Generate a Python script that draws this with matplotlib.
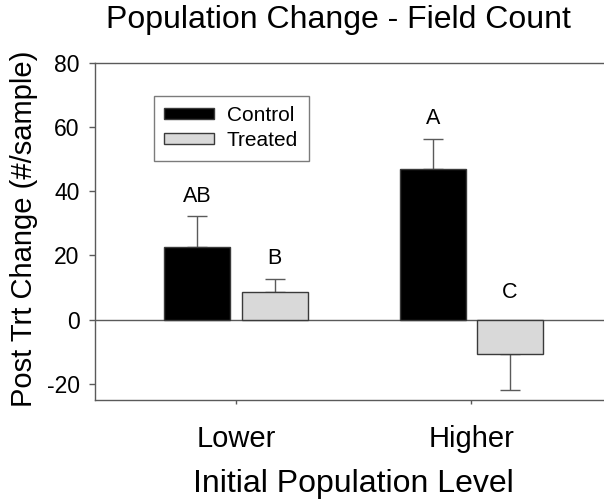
import numpy as np
import matplotlib.pyplot as plt
from matplotlib.patches import Patch

plt.rcParams['font.family'] = ['Liberation Sans', 'DejaVu Sans']
plt.rcParams['axes.unicode_minus'] = False

groups = ['Lower', 'Higher']
series = ['Control', 'Treated']
control_vals = [22.7, 47.0]
control_err = [9.5, 9.3]
treated_vals = [8.7, -10.6]
treated_err = [3.9, 11.2]
control_sig = ['AB', 'A']
treated_sig = ['B', 'C']

bar_colors = {'Control': '#000000', 'Treated': '#d9d9d9'}
line_grey = '#5a5a5a'

fig = plt.figure(figsize=(6.04, 5.01), dpi=100)
# axes runs past the right edge of the figure, as in the original
ax = fig.add_axes([0.157, 0.2016, 0.896, 0.6733])

x = np.arange(len(groups))
width = 0.28
offset = 0.164

def draw_series(xpos, vals, errs, sigs, color):
    ax.bar(xpos, vals, width, color=color, edgecolor='#3a3a3a', linewidth=1, zorder=3)
    for xi, v, e, s in zip(xpos, vals, errs, sigs):
        if v >= 0:
            yerr = [[0], [e]]
            top = v + e
        else:
            yerr = [[e], [0]]
            top = 0
        ax.errorbar([xi], [v], yerr=yerr, fmt='none', ecolor=line_grey,
                    elinewidth=1, capsize=7, capthick=1, zorder=2)
        ax.annotate(s, (xi, top), xytext=(0, 7 if v >= 0 else 12), textcoords='offset points',
                    ha='center', va='bottom', fontsize=15.5)

draw_series(x - offset, control_vals, control_err, control_sig, bar_colors['Control'])
draw_series(x + offset, treated_vals, treated_err, treated_sig, bar_colors['Treated'])

ax.axhline(0, color=line_grey, linewidth=1, zorder=1)

ax.set_xlim(-0.6, 1.7)
ax.set_ylim(-25, 80)
ax.set_yticks([-20, 0, 20, 40, 60, 80])
ax.set_xticks(x)
ax.set_xticklabels(groups)
ax.tick_params(axis='y', labelsize=16.5, length=4, width=1, color=line_grey, pad=7)
ax.tick_params(axis='x', labelsize=21, length=3, width=1, color=line_grey, pad=15)

for side in ['left', 'top', 'bottom']:
    ax.spines[side].set_color(line_grey)
    ax.spines[side].set_linewidth(1)
ax.spines['right'].set_visible(False)

handles = [Patch(facecolor=bar_colors[s], edgecolor='#3a3a3a', linewidth=1) for s in series]
leg = ax.legend(handles, series, loc='upper left', bbox_to_anchor=(154 / 604, 1 - 95.7 / 501),
                bbox_transform=fig.transFigure, fontsize=15, frameon=True, fancybox=False,
                handlelength=2.4, handleheight=0.44, handletextpad=0.6, labelspacing=0.3,
                borderpad=0.5, borderaxespad=0)
leg.get_frame().set_edgecolor(line_grey)
leg.get_frame().set_linewidth(1)

fig.text(338 / 604, 1 - 28 / 501, 'Population Change - Field Count', ha='center', va='baseline', fontsize=23)
fig.text(353 / 604, 1 - 491.7 / 501, 'Initial Population Level', ha='center', va='baseline', fontsize=23)
fig.text(24 / 604, 1 - 229 / 501, 'Post Trt Change (#/sample)', ha='center', va='center',
         rotation=90, fontsize=21)

fig.savefig('out.png', dpi=100)
